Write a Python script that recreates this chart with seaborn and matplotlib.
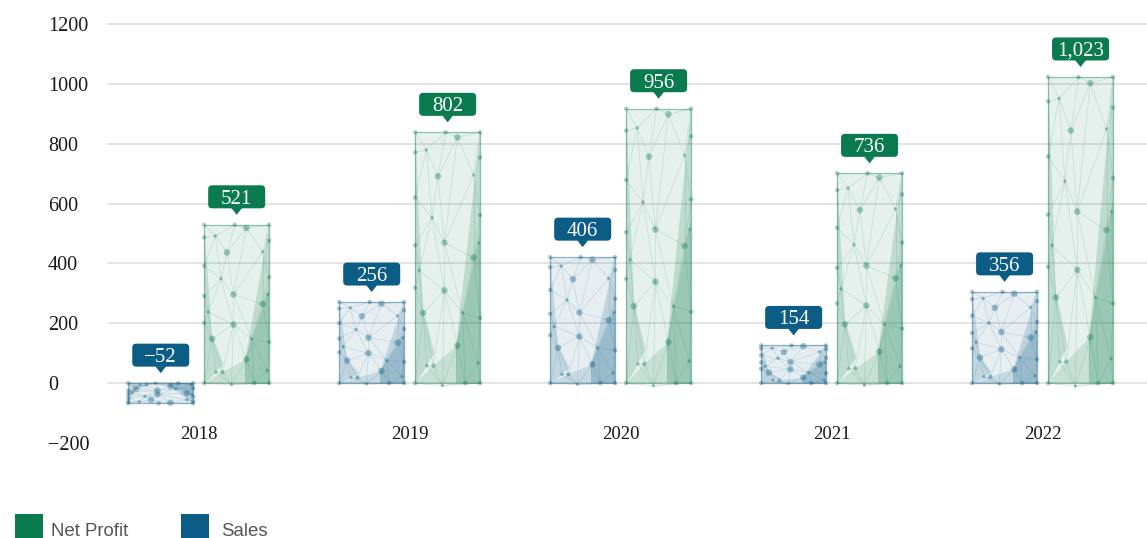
import numpy as np
import pandas as pd
import matplotlib
matplotlib.use("Agg")
import matplotlib.pyplot as plt
import matplotlib.transforms as mtransforms
import matplotlib.tri as mtri
from matplotlib.patches import Polygon, FancyBboxPatch, Rectangle
from matplotlib.collections import LineCollection
from matplotlib.colors import to_rgba
import seaborn as sns

# ---------------- data ----------------
years = ["2018", "2019", "2020", "2021", "2022"]
sales = [-67, 271, 421, 126, 305]
net_profit = [529, 838, 917, 701, 1023]
sales_labels = ["\u221252", "256", "406", "154", "356"]
net_profit_labels = ["521", "802", "956", "736", "1,023"]
y_ticks = [-200, 0, 200, 400, 600, 800, 1000, 1200]
series_names = ["Sales", "Net Profit"]
legend_order = ["Net Profit", "Sales"]

# ---------------- style ----------------
GREEN = "#0a7a4f"
BLUE = "#0b5d85"
colors = {"Sales": BLUE, "Net Profit": GREEN}

# decorative low-poly pattern in bar-relative units (u across, v up)
SHAPES = [
    ([(0, 1), (0.12, 0.3), (0.3, 0.12), (0, 0)], 0.17),
    ([(0, 0), (0.28, 0.07), (0.65, 0.15), (0.63, 0)], 0.14),
    ([(1, 1), (0.63, 0.15), (0.63, 0), (1, 0)], 0.18),
    ([(0.63, 0.15), (1, 0.6), (1, 0), (0.63, 0)], 0.20),
]
DOTS = [(0, 1, 10), (0.47, 1, 10), (1, 1, 10), (0.65, 0.98, 22), (0, 0.92, 10),
        (0.17, 0.93, 6), (1, 0.9, 10), (0.35, 0.825, 22), (0.9, 0.83, 6), (0, 0.74, 10),
        (0.26, 0.66, 6), (1, 0.67, 10), (0.45, 0.56, 22), (0, 0.55, 10), (0.98, 0.56, 6),
        (0.9, 0.50, 22), (0.06, 0.45, 6), (0, 0.38, 10), (0.45, 0.37, 22), (0.73, 0.28, 6),
        (0.12, 0.28, 22), (1, 0.26, 10), (0.65, 0.15, 22), (0.18, 0.07, 6), (0.28, 0.07, 10),
        (0.97, 0.08, 6), (0, 0, 10), (0.42, -0.01, 6), (0.77, 0, 10), (1, 0, 10)]
DU = np.array([d[0] for d in DOTS])
DV = np.array([d[1] for d in DOTS])
DS = np.array([d[2] for d in DOTS])
TRI_EDGES = mtri.Triangulation(DU, DV).edges

df = pd.DataFrame({
    "year": years * 2,
    "series": ["Sales"] * len(years) + ["Net Profit"] * len(years),
    "value": sales + net_profit,
})

sns.set_theme(style="white")
plt.rcParams["font.family"] = ["Liberation Serif", "DejaVu Serif"]
plt.rcParams["axes.unicode_minus"] = True

W, H = 1147, 538
fig = plt.figure(figsize=(W / 100, H / 100), dpi=100)
ax = fig.add_axes([108 / W, (H - 443) / H, 1 - 108 / W, (443 - 24) / H])

sns.barplot(data=df, x="year", y="value", hue="series", hue_order=series_names,
            order=years, palette=colors, width=0.72, gap=0.145, errorbar=None,
            legend=False, saturation=1, ax=ax)

ax.set_xlim(-0.43, 4.495)
ax.set_ylim(-200, 1200)
for s in ax.spines.values():
    s.set_visible(False)
ax.grid(False)
for t in y_ticks:
    if t >= 0:
        ax.axhline(t, color="#e1e1e1", lw=1.3, zorder=0, clip_on=False)

ax.set_yticks(y_ticks)
ax.set_yticklabels([f"{t}".replace("-", "\u2212") for t in y_ticks])
ax.tick_params(axis="y", length=0, pad=43.2, labelsize=14.5, labelcolor="#1a1a1a")
for lbl in ax.get_yticklabels():
    lbl.set_horizontalalignment("left")
ax.tick_params(axis="x", length=0, pad=-12, labelsize=13.5, labelcolor="#1a1a1a")
ax.set_xlabel("")
ax.set_ylabel("")

PX = 1 / 100.0
for cont, name, labels in zip(ax.containers, series_names, [sales_labels, net_profit_labels]):
    color = colors[name]
    for bar, lab in zip(cont, labels):
        x0, w = bar.get_x(), bar.get_width()
        y0, h = bar.get_y(), bar.get_height()
        z = bar.get_zorder()
        bar.set_facecolor(to_rgba(color, 0.10))
        bar.set_edgecolor(to_rgba(color, 0.35))
        bar.set_linewidth(1.0)

        def m(u, v):
            return x0 + np.asarray(u) * w, y0 + np.asarray(v) * h

        for pts, a in SHAPES:
            xs, ys = m([p[0] for p in pts], [p[1] for p in pts])
            ax.add_patch(Polygon(np.column_stack([xs, ys]), closed=True,
                                 facecolor=to_rgba(color, a), edgecolor="none", zorder=z + 0.1))
        X, Y = m(DU, DV)
        segs = [[(X[i], Y[i]), (X[j], Y[j])] for i, j in TRI_EDGES]
        ax.add_collection(LineCollection(segs, colors=[to_rgba(color, 0.15)], linewidths=0.6,
                                         zorder=z + 0.2))
        ax.scatter(X, Y, s=DS, color=to_rgba(color, 0.36), linewidths=0, zorder=z + 0.3)

        # callout tag
        top = max(0.0, y0 + h)
        cx = x0 + w / 2
        trans = fig.dpi_scale_trans + mtransforms.ScaledTranslation(cx, top, ax.transData)
        ax.add_patch(FancyBboxPatch((-28.5 * PX, 16.5 * PX), 57 * PX, 23 * PX,
                                    boxstyle=f"round,pad=0,rounding_size={4 * PX}",
                                    transform=trans, facecolor=color, edgecolor="none",
                                    clip_on=False, zorder=6))
        ax.add_patch(Polygon([(-5.5 * PX, 17 * PX), (5.5 * PX, 17 * PX), (0, 10 * PX)],
                             closed=True, transform=trans, facecolor=color, edgecolor="none",
                             clip_on=False, zorder=6))
        ax.text(0, 21 * PX, lab, transform=trans, ha="center", va="baseline",
                color="white", fontsize=15, zorder=7)

# legend (manual)
sans = ["Liberation Sans", "DejaVu Sans"]
leg_x = {"Net Profit": (15, 51), "Sales": (181, 221)}
for name in legend_order:
    sx, tx = leg_x[name]
    fig.patches.append(Rectangle((sx / W, 0), 28 / W, 24 / H, transform=fig.transFigure,
                                 facecolor=colors[name], edgecolor="none"))
    fig.text(tx / W, 2.5 / H, name, family=sans, fontsize=13.4, color="#555555",
             ha="left", va="baseline")

fig.savefig("out.png", dpi=100)
